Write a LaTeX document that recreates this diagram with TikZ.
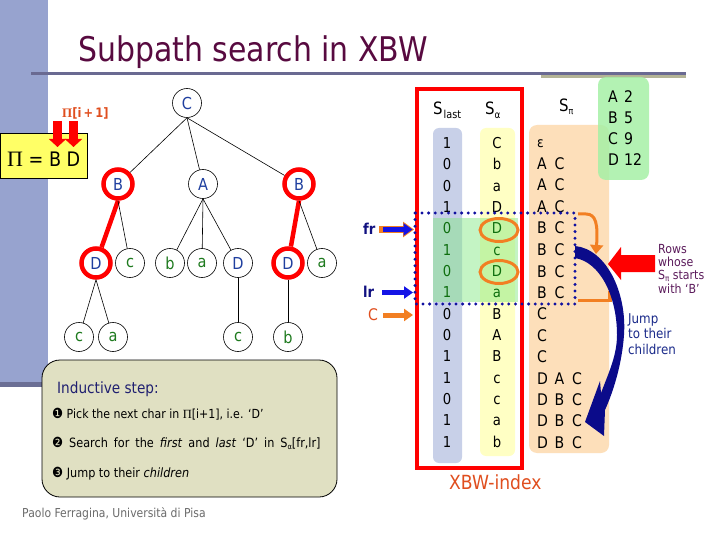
\documentclass[tikz,border=0pt]{standalone}
\usepackage{fontspec}
\setmainfont[FakeStretch=0.88]{DejaVu Sans}
\newfontfamily\serifgr{Liberation Serif}
\usetikzlibrary{arrows.meta,shapes.geometric}
\newcommand\fsz[1]{\fontsize{#1}{#1}\selectfont}
\newcommand\sprow[3]{\makebox[17.5pt][l]{#1}\makebox[17.5pt][l]{#2}#3}
\newcommand\dingb[1]{{\fsz{14}#1}}
\definecolor{side}{HTML}{97A3CF}
\definecolor{sidedark}{HTML}{6B6F95}
\definecolor{titlec}{HTML}{580A40}
\definecolor{linedark}{HTML}{6A6A92}
\definecolor{linekhaki}{HTML}{B4B496}
\definecolor{ucol}{HTML}{1F3F9F}
\definecolor{lcol}{HTML}{1E7A1E}
\definecolor{yel}{HTML}{FFFF66}
\definecolor{redorange}{HTML}{E04E1E}
\definecolor{slastbg}{HTML}{C8D0E8}
\definecolor{salphabg}{HTML}{FFFFC4}
\definecolor{spibg}{HTML}{FDDFBA}
\definecolor{greenbox}{HTML}{A6F0A6}
\definecolor{hlgreen}{HTML}{7EE87E}
\definecolor{rowgreen}{HTML}{0E6E0E}
\definecolor{dotc}{HTML}{1010A0}
\definecolor{arrblue}{HTML}{1414E6}
\definecolor{orng}{HTML}{F27F22}
\definecolor{navyarr}{HTML}{0B0B8A}
\definecolor{navytext}{HTML}{101080}
\definecolor{steptext}{HTML}{202070}
\definecolor{stepbg}{HTML}{E0E0C2}
\definecolor{purp}{HTML}{5C1C5C}
\definecolor{jumpc}{HTML}{1A2A8A}
\definecolor{footc}{HTML}{6B6B6B}
\begin{document}
\begin{tikzpicture}[x=1pt,y=-1pt,
  tn/.style={circle,draw=black,line width=0.6pt,minimum size=29pt,inner sep=0pt,fill=white,font=\fsz{16.5}},
  uc/.style={text=ucol}, lc/.style={text=lcol},
  hl/.style={draw=red,line width=4.5pt},
  tedge/.style={draw=black,line width=0.6pt},
  redge/.style={draw=red,line width=4.5pt},
  txt/.style={inner sep=0pt,anchor=base west},
  cell/.style={inner sep=0pt,anchor=base,font=\fsz{15}},
  sprw/.style={inner sep=0pt,anchor=base west,font=\fsz{16}},
  blkblue/.style={draw=arrblue,line width=5pt,-{Triangle[length=9pt,width=12pt]}},
  blkorng/.style={draw=orng,line width=5pt,-{Triangle[length=9pt,width=12pt]}},
  ring/.style={ellipse,draw=orng,line width=3pt,minimum width=38pt,minimum height=23pt,inner sep=0pt},
]
\useasboundingbox (0,0) rectangle (720,540);
\fill[white] (0,0) rectangle (720,540);
% sidebar and title rule
\fill[side] (0,0) rectangle (48,383);
\fill[sidedark] (0,382) rectangle (48,387);
\fill[linedark] (31,72) rectangle (686,75.5);
\fill[linekhaki] (541,75.5) rectangle (686,78.5);
\node[txt,text=titlec,font=\fsz{34}] (title) at (78,62) {Subpath search in XBW};

% Pi box
\node[draw=black,fill=yel,line width=0.6pt,minimum width=87pt,minimum height=45pt,inner sep=0pt,anchor=north west] (pibox) at (0,133) {};
\node[txt] (pitxt) at (7,167) {{\serifgr\fsz{22}Π}\fsz{20} = B D};
\coordinate (da1s) at (57.5,121); \coordinate (da1e) at (57.5,147);
\coordinate (da2s) at (73.5,121); \coordinate (da2e) at (73.5,147);
\draw[red,line width=9pt,-{Triangle[length=8pt,width=17pt]}] (da1s) -- (da1e);
\draw[red,line width=9pt,-{Triangle[length=8pt,width=17pt]}] (da2s) -- (da2e);
\node[txt,text=redorange,font=\fsz{13}\bfseries] (pilab) at (62,118) {{\serifgr Π}[i\,+\,1]};

% tree
\node[tn,uc] (nC) at (187,103) {C};
\node[tn,uc,hl] (nB1) at (118,184) {B};
\node[tn,uc] (nA) at (203,184) {A};
\node[tn,uc,hl] (nB2) at (299,184) {B};
\node[tn,uc,hl] (nD1) at (96,263) {D};
\node[tn,lc] (nc1) at (130,263) {c};
\node[tn,lc] (nb1) at (170,263) {b};
\node[tn,lc] (na1) at (202,263) {a};
\node[tn,uc] (nD2) at (238,263) {D};
\node[tn,uc,hl] (nD3) at (288,263) {D};
\node[tn,lc] (na2) at (322,263) {a};
\node[tn,lc] (nc2) at (79,337) {c};
\node[tn,lc] (na3) at (113,337) {a};
\node[tn,lc] (nc3) at (238,337) {c};
\node[tn,lc] (nb2) at (288,337) {b};
\draw[tedge] (nC.south) -- (nB1);
\draw[tedge] (nC.south) -- (nA);
\draw[tedge] (nC.south) -- (nB2);
\draw[redge] (nB1.south) -- (nD1);
\draw[tedge] (nB1.south) -- (nc1);
\draw[tedge] (nA.south) -- (nb1);
\draw[tedge] (nA.south) -- (na1);
\draw[tedge] (nA.south) -- (nD2);
\draw[redge] (nB2.south) -- (nD3);
\draw[tedge] (nB2.south) -- (na2);
\draw[tedge] (nD1.south) -- (nc2);
\draw[tedge] (nD1.south) -- (na3);
\draw[tedge] (nD2) -- (nc3);
\draw[tedge] (nD3) -- (nb2);

% inductive step box
\draw[fill=stepbg,draw=black,line width=0.8pt,rounded corners=18pt] (42,360) rectangle (337,497);
\node[txt,text=steptext,font=\fsz{15.5}] (is0) at (57,393) {Inductive step:};
\node[txt,font=\fsz{12.5}] (is1) at (52,418) {\dingb{❶} Pick the next char in {\serifgr Π}[i+1], i.e. ‘D’};
\node[txt,font=\fsz{12.8}] (is2) at (52,447) {\spaceskip=6pt \dingb{❷} Search for the \textit{first} and \textit{last} ‘D’ in S\raisebox{-2pt}{\fsz{7.5}α}[fr,lr]};
\node[txt,font=\fsz{12.8}] (is3) at (52,477) {\dingb{❸} Jump to their \textit{children}};
\node[txt,text=footc,font=\fsz{12.3}] (foot) at (22,517) {Paolo Ferragina, Università di Pisa};

% XBW columns
\fill[slastbg,rounded corners=6pt] (433,128) rectangle (462,463);
\fill[salphabg,rounded corners=6pt] (480,128) rectangle (515,456);
\fill[hlgreen,opacity=0.45] (433,218) rectangle (518,302);
\fill[spibg,rounded corners=8pt] (529,125) rectangle (609,453);
\fill[greenbox,opacity=0.85,rounded corners=8pt] (598,77) rectangle (649,180);
\draw[red,line width=4pt] (417,89.5) rectangle (522,468);

\node[txt] (hsl) at (433,115) {\fsz{17}S\kern1pt\raisebox{-4pt}{\fsz{11}last}};
\node[txt] (hsa) at (485,115) {\fsz{17}S\raisebox{-4pt}{\fsz{10}α}};
\node[txt] (hsp) at (559,112) {\fsz{17}S\raisebox{-3pt}{\fsz{9}π}};

\foreach \v/\c [count=\i] in {1/black,0/black,0/black,1/black,0/rowgreen,1/rowgreen,0/rowgreen,1/rowgreen,0/black,0/black,1/black,1/black,0/black,1/black,1/black}
  \node[cell,text=\c] (sl\i) at (447,{148.3+21.36*(\i-1)}) {\v};
\foreach \v/\c [count=\i] in {C/black,b/black,a/black,D/black,D/rowgreen,c/rowgreen,D/rowgreen,a/rowgreen,B/black,A/black,B/black,c/black,c/black,a/black,b/black}
  \node[cell,text=\c] (sa\i) at (497,{148.3+21.36*(\i-1)}) {\v};

\node[sprw] (sp1) at (537,148) {\fsz{14}ε};
\node[sprw] (sp2) at (537,169.4) {\sprow{A}{C}{}};
\node[sprw] (sp3) at (537,190.7) {\sprow{A}{C}{}};
\node[sprw] (sp4) at (537,212.1) {\sprow{A}{C}{}};
\node[sprw] (sp5) at (537,233.9) {\sprow{B}{C}{}};
\node[sprw] (sp6) at (537,255.5) {\sprow{B}{C}{}};
\node[sprw] (sp7) at (537,277.2) {\sprow{B}{C}{}};
\node[sprw] (sp8) at (537,298.5) {\sprow{B}{C}{}};
\node[sprw] (sp9) at (537,319.9) {\sprow{C}{}{}};
\node[sprw] (sp10) at (537,341.2) {\sprow{C}{}{}};
\node[sprw] (sp11) at (537,362.6) {\sprow{C}{}{}};
\node[sprw] (sp12) at (537,384) {\sprow{D}{A}{C}};
\node[sprw] (sp13) at (537,405.3) {\sprow{D}{B}{C}};
\node[sprw] (sp14) at (537,426.7) {\sprow{D}{B}{C}};
\node[sprw] (sp15) at (537,448) {\sprow{D}{B}{C}};

\node[sprw] (g1) at (608,103) {\makebox[16pt][l]{A}2};
\node[sprw] (g2) at (608,124) {\makebox[16pt][l]{B}5};
\node[sprw] (g3) at (608,145) {\makebox[16pt][l]{C}9};
\node[sprw] (g4) at (608,166) {\makebox[16pt][l]{D}12};

\node[ring] (e1) at (499,230) {};
\node[ring] (e2) at (499,272) {};
\draw[dotc,line width=3.3pt,line cap=round,dash pattern=on 0pt off 6.6pt] (415,213) rectangle (575,304);

% fr / lr / C pointers
\node[txt,text=navytext,font=\fsz{15}\bfseries] (lfr) at (363,235) {fr};
\node[txt,text=navytext,font=\fsz{15}\bfseries] (llr) at (363,297) {lr};
\node[txt,text=redorange,font=\fsz{16}] (lC) at (368,320) {C};
\coordinate (fra) at (379,229.5); \coordinate (frb) at (414,229.5);
\coordinate (frc) at (383,229.5); \coordinate (frd) at (412.5,229.5);
\coordinate (lra) at (382,292.5); \coordinate (lrb) at (413,292.5);
\coordinate (ca) at (383,315); \coordinate (cb) at (413,315);
\draw[orng,line width=6.5pt,-{Triangle[length=11pt,width=15pt]}] (fra) -- (frb);
\draw[blkblue] (frc) -- (frd);
\draw[blkblue] (lra) -- (lrb);
\draw[blkorng] (ca) -- (cb);

\node[txt,text=redorange,font=\fsz{19.5}] (xbw) at (449,489) {XBW-index};

% right-hand arrows
\coordinate (oa) at (578,214); \coordinate (ob) at (596,254);
\draw[orng,line width=3pt,-{Triangle[length=9pt,width=13pt]}] (oa) -- (586,214) .. controls (596,214) and (598,224) .. (ob);
\draw[orng,line width=3.5pt] (578,300.5) -- (610,300.5) -- (610,291);
\fill[navyarr] (575,246) .. controls (606,249) and (627,292) .. (624,335) .. controls (622,363) and (614,390) .. (605,410) -- (604,436) -- (585,422) -- (600,381) -- (601,393) .. controls (609,372) and (617,355) .. (617,335) .. controls (617,296) and (600,262) .. (575,258) -- cycle;
\fill[red] (655,255) -- (621,255) -- (621,247) -- (608,264) -- (621,280) -- (621,272) -- (655,272) -- cycle;

\node[txt,text=purp,font=\fsz{12.5}] (rw1) at (658,253) {Rows};
\node[txt,text=purp,font=\fsz{12.5}] (rw2) at (658,266) {whose};
\node[txt,text=purp,font=\fsz{12.5}] (rw3) at (658,279) {S\raisebox{-2pt}{\fsz{8}π} starts};
\node[txt,text=purp,font=\fsz{12.5}] (rw4) at (658,293) {with ‘B’};
\node[txt,text=jumpc,font=\fsz{13.5}] (jp1) at (628,323) {Jump};
\node[txt,text=jumpc,font=\fsz{13.5}] (jp2) at (628,338.5) {to their};
\node[txt,text=jumpc,font=\fsz{13.5}] (jp3) at (628,354) {children};
\end{tikzpicture}
\end{document}
